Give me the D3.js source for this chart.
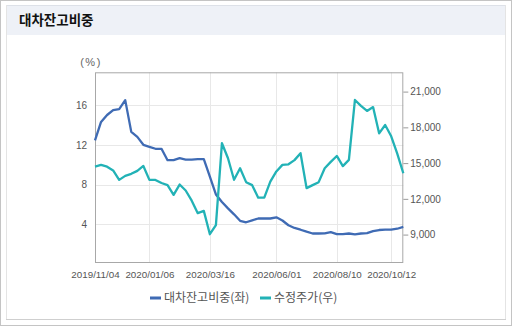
<!DOCTYPE html>
<html>
<head>
<meta charset="utf-8">
<script src="https://cdn.jsdelivr.net/npm/d3@7/dist/d3.min.js"></script>
<style>
  html, body { margin: 0; padding: 0; background: #fff; }
  svg { display: block; }
  .tick text { font-family: "Liberation Sans", Arial, sans-serif; }
</style>
</head>
<body>
<svg id="chart" width="512" height="326"></svg>
<script>
// Weekly observations, Mondays from 2019-11-04 to 2020-10-26
const startDate = "2019-11-04";
const weekCount = 52;

// Short-sale balance ratio (%) – left axis
const ratioValues = [
  12.45, 14.3, 15.0, 15.5, 15.6, 16.5, 13.3, 12.8, 12.0, 11.8,
  11.6, 11.6, 10.45, 10.45, 10.65, 10.5, 10.5, 10.55, 10.55, 8.8,
  7.0, 6.25, 5.6, 5.0, 4.35, 4.2, 4.4, 4.58, 4.58, 4.58,
  4.7, 4.38, 3.9, 3.63, 3.45, 3.25, 3.07, 3.07, 3.08, 3.2,
  3.0, 3.0, 3.07, 2.98, 3.07, 3.1, 3.3, 3.42, 3.45, 3.45,
  3.55, 3.73
];

// Adjusted share price (KRW) – right axis
const priceValues = [
  14705, 14850, 14700, 14380, 13590, 13930, 14100, 14350, 14760, 13590,
  13590, 13330, 13150, 12330, 13200, 12700, 11850, 10800, 10990, 9030,
  9800, 16670, 15410, 13600, 14570, 13400, 13150, 12100, 12100, 13450,
  14300, 14850, 14900, 15250, 15830, 12900, 13150, 13400, 14570, 15100,
  15600, 14750, 15270, 20300, 19800, 19380, 19700, 17500, 18200, 17250,
  15800, 14150
];

const xTickLabels = ["2019/11/04", "2020/01/06", "2020/03/16", "2020/06/01", "2020/08/10", "2020/10/12"];
const leftTicks = [4, 8, 12, 16];
const rightTicks = [9000, 12000, 15000, 18000, 21000];

const titleText = "대차잔고비중";
const seriesNames = ["대차잔고비중(좌)", "수정주가(우)"];
const seriesColors = ["#3f6bb4", "#22b2b6"];

const parseDay = d3.timeParse("%Y-%m-%d");
const parseTick = d3.timeParse("%Y/%m/%d");
const dates = d3.range(weekCount).map(i => d3.timeDay.offset(parseDay(startDate), i * 7));

const svg = d3.select("#chart");
const W = 512, H = 326;
const plot = { left: 95, right: 403.3, top: 72.3, bottom: 262 };

// Outer frame and panel
svg.append("rect").attr("x", 0.5).attr("y", 0.5).attr("width", W - 1).attr("height", H - 1)
  .attr("fill", "#fff").attr("stroke", "#c4c4c4");
svg.append("rect").attr("x", 6).attr("y", 5).attr("width", W - 12).attr("height", 30)
  .attr("fill", "#eef1f7");
svg.append("line").attr("x1", 6).attr("x2", W - 6).attr("y1", 5.5).attr("y2", 5.5).attr("stroke", "#dde1e8");
svg.append("line").attr("x1", 6.5).attr("x2", 6.5).attr("y1", 5).attr("y2", 320).attr("stroke", "#e4e4e4");
svg.append("line").attr("x1", W - 6.5).attr("x2", W - 6.5).attr("y1", 5).attr("y2", 320).attr("stroke", "#e4e4e4");
svg.append("line").attr("x1", 6).attr("x2", W - 6).attr("y1", 319.5).attr("y2", 319.5).attr("stroke", "#cfcfcf");

svg.append("text").attr("x", 19).attr("y", 24.5)
  .attr("font-family", "'Noto Sans CJK KR', sans-serif").attr("font-weight", "bold")
  .attr("font-size", 13.5).attr("fill", "#111").text(titleText);

// Scales
const x = d3.scaleTime().domain([dates[0], dates[dates.length - 1]]).range([plot.left, plot.right]);
const yL = d3.scaleLinear().domain([0.2, 19.3]).range([plot.bottom, plot.top]);
const yR = d3.scaleLinear().domain([6700, 22620]).range([plot.bottom, plot.top]);
const xTickDates = xTickLabels.map(parseTick);

// Grid
const grid = svg.append("g").attr("stroke", "#e8e8e8").attr("stroke-width", 1);
grid.selectAll(".h").data(leftTicks).join("line")
  .attr("x1", plot.left).attr("x2", plot.right)
  .attr("y1", d => Math.round(yL(d)) + 0.5).attr("y2", d => Math.round(yL(d)) + 0.5);
grid.selectAll(".v").data(xTickDates.slice(1)).join("line")
  .attr("y1", plot.top).attr("y2", plot.bottom)
  .attr("x1", d => Math.round(x(d)) + 0.5).attr("x2", d => Math.round(x(d)) + 0.5);

// Axes
const axisColor = "#9a9a9a";
const labelColor = "#555";
const gL = svg.append("g").attr("transform", `translate(${plot.left},0)`)
  .call(d3.axisLeft(yL).tickValues(leftTicks).tickFormat(d3.format("d")).tickSize(0).tickPadding(8));
const gR = svg.append("g").attr("transform", `translate(${plot.right},0)`)
  .call(d3.axisRight(yR).tickValues(rightTicks).tickFormat(d3.format(",")).tickSize(5).tickPadding(2));
const gB = svg.append("g").attr("transform", `translate(0,${plot.bottom})`)
  .call(d3.axisBottom(x).tickValues(xTickDates).tickFormat((d, i) => xTickLabels[i]).tickSize(0).tickPadding(9));

[gL, gR, gB].forEach(g => {
  g.select(".domain").remove();
  g.selectAll(".tick line").attr("stroke", axisColor);
  g.selectAll(".tick text").attr("fill", labelColor).attr("font-size", 10);
});
gB.selectAll(".tick text").attr("font-size", 9.8);

// Plot frame
svg.append("rect").attr("x", plot.left + 0.5).attr("y", plot.top + 0.5)
  .attr("width", plot.right - plot.left - 1).attr("height", plot.bottom - plot.top)
  .attr("fill", "none").attr("stroke", "#a8a8a8");

svg.append("text").attr("x", 91).attr("y", 66).attr("text-anchor", "middle")
  .attr("font-family", "'Liberation Sans', Arial, sans-serif").attr("font-size", 11)
  .attr("letter-spacing", 1.5).attr("fill", "#666").text("(%)");

// Lines
const lineL = d3.line().x((d, i) => x(dates[i])).y(d => yL(d));
const lineR = d3.line().x((d, i) => x(dates[i])).y(d => yR(d));

svg.append("path").datum(ratioValues).attr("d", lineL)
  .attr("fill", "none").attr("stroke", seriesColors[0]).attr("stroke-width", 2.3)
  .attr("stroke-linejoin", "round");
svg.append("path").datum(priceValues).attr("d", lineR)
  .attr("fill", "none").attr("stroke", seriesColors[1]).attr("stroke-width", 2.3)
  .attr("stroke-linejoin", "round");

// Legend
const legend = svg.append("g").attr("font-family", "'Noto Sans CJK KR', sans-serif")
  .attr("font-size", 12).attr("fill", "#555");
const legendX = [150, 260];
seriesNames.forEach((name, i) => {
  legend.append("rect").attr("x", legendX[i]).attr("y", 296.5).attr("width", 11).attr("height", 3)
    .attr("fill", seriesColors[i]);
  legend.append("text").attr("x", legendX[i] + 14).attr("y", 302).text(name);
});
</script>
</body>
</html>
